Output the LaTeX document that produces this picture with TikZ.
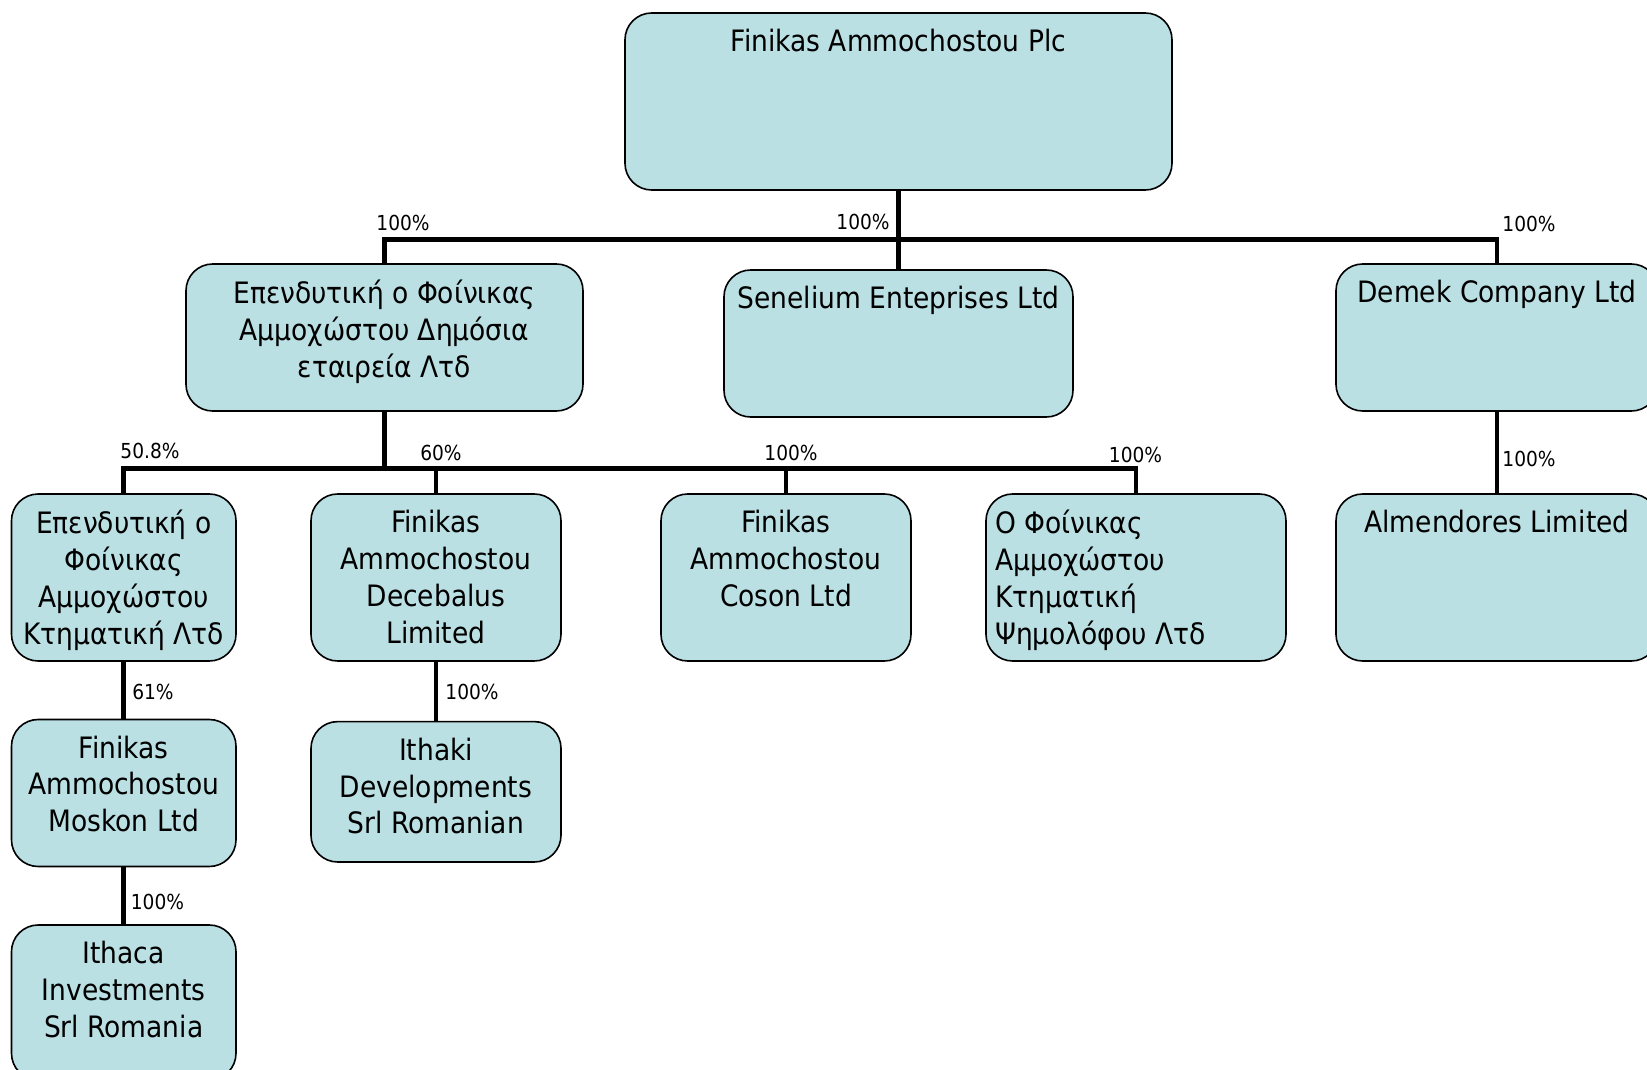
\documentclass[tikz,border=0pt]{standalone}
\usepackage{fontspec}
\setmainfont{DejaVu Sans Condensed}
\definecolor{boxfill}{RGB}{186,224,228}
\tikzset{
  cbox/.style={draw=black, line width=1.2pt, fill=boxfill, rounded corners=20pt, inner sep=0pt},
  btext/.style={inner sep=0pt, font={\fontsize{22.1}{27.6}\selectfont}},
  conn/.style={line width=3.7pt},
  pct/.style={inner sep=0pt, font={\fontsize{15.5}{18}\selectfont}}
}
\newcommand\orgbox[6]{%
  \node[cbox, minimum width={(#4-#2)*0.75pt}, minimum height={(#5-#3)*0.75pt}] (#1) at ({(#2+#4)/2},{(#3+#5)/2}) {};
  \node[btext, align=center, anchor=north] (#1-t) at ({(#2+#4)/2},{#3+16}) {#6};
}
\begin{document}
\begin{tikzpicture}[x=0.75pt,y=-0.75pt]
\useasboundingbox (0,0) rectangle (1647,1070);
\orgbox{top}{625}{13}{1172}{190}{Finikas Ammochostou Plc}
\orgbox{gp}{186}{264}{583}{411}{Επενδυτική ο Φοίνικας\\Αμμοχώστου Δημόσια\\εταιρεία Λτδ}
\orgbox{sen}{724}{270}{1073}{417}{Senelium Enteprises Ltd}
\orgbox{dem}{1336}{264}{1658}{411}{Demek Company Ltd}
\orgbox{a}{11.5}{494}{236}{661}{Επενδυτική ο\\Φοίνικας\\Αμμοχώστου\\Κτηματική Λτδ}
\orgbox{b}{311}{494}{561}{661}{Finikas\\Ammochostou\\Decebalus\\Limited}
\orgbox{c}{661}{494}{911}{661}{Finikas\\Ammochostou\\Coson Ltd}
\node[cbox, minimum width={300*0.75pt}, minimum height={167*0.75pt}] (d) at (1136,577.5) {};
\node[btext, align=left, anchor=north west] (d-t) at (995,510) {Ο Φοίνικας\\Αμμοχώστου\\Κτηματική\\Ψημολόφου Λτδ};
\orgbox{alm}{1336}{494}{1658}{661}{Almendores Limited}
\orgbox{mos}{11.5}{719.5}{236}{866.5}{Finikas\\Ammochostou\\Moskon Ltd}
\orgbox{ith}{311}{721.6}{561}{862}{Ithaki\\Developments\\Srl Romanian}
\orgbox{ica}{11.5}{925}{236}{1080}{Ithaca\\Investments\\Srl Romania}
% connectors
\coordinate (bus1) at (898.5,239.5);
\coordinate (bus2) at (384.5,468.5);
\draw[conn] (top.south) -- (sen.north);
\draw[conn] (gp.north) |- (bus1) -| (dem.north);
\draw[conn] (gp.south) -- (bus2);
\draw[conn] (a.north) |- (bus2) -| (d.north);
\draw[conn] (b.north) -- (b.north |- bus2);
\draw[conn] (c.north) -- (c.north |- bus2);
\draw[conn] (dem.south) -- (alm.north);
\draw[conn] (a.south) -- (mos.north);
\draw[conn] (b.south) -- (ith.north);
\draw[conn] (mos.south) -- (ica.north);
% labels
\node[pct] (l1) at (403,223) {100\%};
\node[pct] (l2) at (863,222) {100\%};
\node[pct] (l3) at (1529,224) {100\%};
\node[pct] (l4) at (150,451) {50.8\%};
\node[pct] (l5) at (441,453) {60\%};
\node[pct] (l6) at (791,453) {100\%};
\node[pct] (l7) at (1135.5,455) {100\%};
\node[pct] (l8) at (1529,459) {100\%};
\node[pct] (l9) at (153,692) {61\%};
\node[pct] (l10) at (472,692) {100\%};
\node[pct] (l11) at (157.5,902) {100\%};
\end{tikzpicture}
\end{document}
